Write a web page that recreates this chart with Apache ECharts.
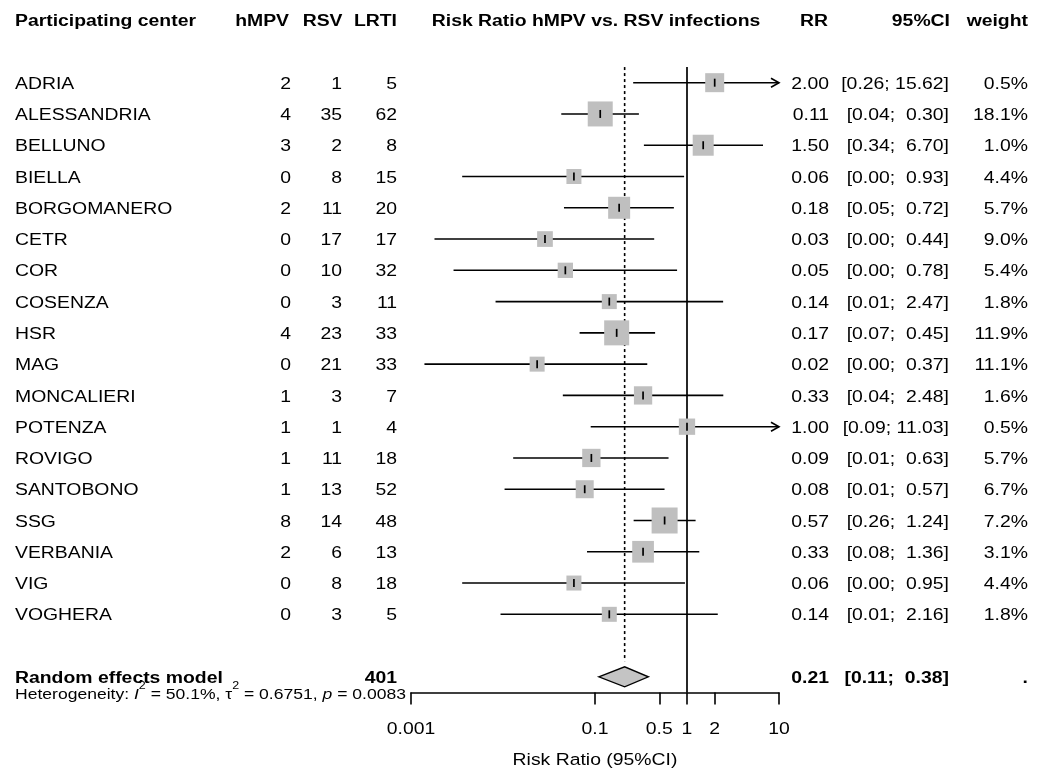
<!DOCTYPE html>
<html>
<head>
<meta charset="utf-8">
<script src="https://cdn.jsdelivr.net/npm/echarts@6/dist/echarts.min.js"></script>
<style>html,body{margin:0;padding:0;background:#fff}#c{width:1045px;height:771px}</style>
</head>
<body>
<div id="c"></div>
<script>
// ---------------- data ----------------
const centers = ['ADRIA','ALESSANDRIA','BELLUNO','BIELLA','BORGOMANERO','CETR','COR','COSENZA','HSR','MAG','MONCALIERI','POTENZA','ROVIGO','SANTOBONO','SSG','VERBANIA','VIG','VOGHERA'];
const hMPV = [2,4,3,0,2,0,0,0,4,0,1,1,1,1,8,2,0,0];
const RSV  = [1,35,2,8,11,17,10,3,23,21,3,1,11,13,14,6,8,3];
const LRTI = [5,62,8,15,20,17,32,11,33,33,7,4,18,52,48,13,18,5];
const rr      = [2.00,0.114,1.50,0.059,0.183,0.0286,0.0476,0.143,0.172,0.0235,0.333,1.00,0.0913,0.0773,0.571,0.333,0.059,0.143];
const ciLower = [0.26,0.043,0.34,0.0036,0.046,0.0018,0.0029,0.0083,0.068,0.0014,0.0447,0.0898,0.0129,0.0104,0.263,0.0819,0.0036,0.0094];
const ciUpper = [15.62,0.30,6.70,0.93,0.72,0.44,0.78,2.47,0.45,0.37,2.48,11.03,0.63,0.57,1.24,1.36,0.95,2.16];
const weightPct = [0.5,18.1,1.0,4.4,5.7,9.0,5.4,1.8,11.9,11.1,1.6,0.5,5.7,6.7,7.2,3.1,4.4,1.8];
const pooledRR = 0.21, pooledLower = 0.11, pooledUpper = 0.38;
const totalLRTI = 401;
const hetI2 = 50.1, hetTau2 = 0.6751, hetP = 0.0083;
const xTicks = [0.001, 0.1, 0.5, 1, 2, 10];
const headers = ['Participating center','hMPV','RSV','LRTI','Risk Ratio hMPV vs. RSV infections','RR','95%CI','weight'];
const pooledLabel = 'Random effects model';
const axisTitle = 'Risk Ratio (95%CI)';

// ---------------- style / layout ----------------
const boxPx = [19,25,21,15,22,15.7,15.3,15,25,15,18.3,16.3,18.3,18,26,21.7,15,15];
const FONT = '"Liberation Sans", Arial, Helvetica, sans-serif';
const FS = 16.8, FS_SMALL = 15.2, FS_SUP = 10.8;
const SX = 1.155;            // horizontal stretch of the glyphs
const TXT_DY = 1.5;
const colX = { name: 15, hmpv: 291, rsv: 342, lrti: 397, plot: 596, rr: 829, ci: 949, w: 1028 };
const headX = { name: 15, hmpv: 289, rsv: 342.5, lrti: 397, plot: 596, rr: 828, ci: 950, w: 1028 };
const X_MIN = xTicks[0], X_MAX = xTicks[xTicks.length - 1];
const Y_MIN = -2.5, Y_MAX = 19.5;
const HEADER_ROW = -2, POOLED_ROW = centers.length + 1, HET_ROW = 19.5;

function fmtCI(lo, up) {
  return '[' + lo.toFixed(2) + '; ' + up.toFixed(2).padStart(5, ' ') + ']';
}
function T(text, x, y, align, bold, size) {
  return { type: 'text', silent: true, x: x, y: y, scaleX: SX, scaleY: 1, style: {
    text: text, x: 0, y: 0, fill: '#000', fontSize: size || FS, fontFamily: FONT,
    fontWeight: bold ? 'bold' : 'normal', align: align, verticalAlign: 'middle' } };
}

const chart = echarts.init(document.getElementById('c'));

const tableRows = [[1, HEADER_ROW]].concat(centers.map((c, i) => [1, i])).concat([[1, POOLED_ROW], [1, HET_ROW]]);

const option = {
  animation: false,
  backgroundColor: '#fff',
  grid: { left: 411, right: 266, top: 4.5, bottom: 78.5, containLabel: false },
  xAxis: {
    type: 'log', logBase: 10, min: X_MIN, max: X_MAX, position: 'bottom',
    axisLine: { show: true, onZero: false, lineStyle: { color: '#000', width: 1.6 } },
    axisTick: { show: true, length: 12, customValues: xTicks, lineStyle: { color: '#000', width: 1.6 } },
    axisLabel: { show: false },
    splitLine: { show: false }
  },
  yAxis: { type: 'value', inverse: true, min: Y_MIN, max: Y_MAX, show: false },
  series: [
    { // reference lines
      type: 'custom', coordinateSystem: 'cartesian2d', silent: true, z: 1,
      data: [[1, -0.5, Y_MAX, 0], [pooledRR, -0.5, 18.5, 1]],
      encode: { x: 0, y: [1, 2] },
      renderItem: (params, api) => {
        const p1 = api.coord([api.value(0), api.value(1)]);
        const p2 = api.coord([api.value(0), api.value(2)]);
        const dashed = api.value(3) === 1;
        return { type: 'line', shape: { x1: p1[0], y1: p1[1], x2: p2[0], y2: p2[1] },
          style: { stroke: '#000', lineWidth: dashed ? 1.6 : 1.7, lineDash: dashed ? [3, 3] : null } };
      }
    },
    { // studies
      type: 'custom', coordinateSystem: 'cartesian2d', silent: true, z: 2,
      data: centers.map((c, i) => [rr[i], i, ciLower[i], ciUpper[i]]),
      encode: { x: [0, 2, 3], y: 1 },
      renderItem: (params, api) => {
        const i = params.dataIndex;
        const v = api.value(0), row = api.value(1), lo = api.value(2), up = api.value(3);
        const pc = api.coord([v, row]);
        const xc = pc[0], y = pc[1];
        const xl = api.coord([Math.max(lo, X_MIN), row])[0];
        const xu = api.coord([Math.min(up, X_MAX), row])[0];
        const s = boxPx[i];
        const ch = [
          { type: 'line', shape: { x1: xl, y1: y, x2: xu, y2: y }, style: { stroke: '#000', lineWidth: 1.6 } },
          { type: 'rect', shape: { x: xc - s / 2, y: y - s / 2, width: s, height: s }, style: { fill: '#bfbfbf' } },
          { type: 'line', shape: { x1: xc, y1: y - 4, x2: xc, y2: y + 4 }, style: { stroke: '#000', lineWidth: 1.7 } }
        ];
        if (up > X_MAX) ch.push({ type: 'polyline', shape: { points: [[xu - 8, y - 4.5], [xu, y], [xu - 8, y + 4.5]] },
          style: { stroke: '#000', fill: null, lineWidth: 1.6 } });
        if (lo < X_MIN) ch.push({ type: 'polyline', shape: { points: [[xl + 8, y - 4.5], [xl, y], [xl + 8, y + 4.5]] },
          style: { stroke: '#000', fill: null, lineWidth: 1.6 } });
        return { type: 'group', children: ch };
      }
    },
    { // pooled diamond
      type: 'custom', coordinateSystem: 'cartesian2d', silent: true, z: 3,
      data: [[pooledRR, POOLED_ROW, pooledLower, pooledUpper]],
      encode: { x: [0, 2, 3], y: 1 },
      renderItem: (params, api) => {
        const row = api.value(1);
        const c = api.coord([api.value(0), row]);
        const l = api.coord([api.value(2), row]);
        const u = api.coord([api.value(3), row]);
        const h = 10;
        return { type: 'polygon', shape: { points: [[l[0], c[1]], [c[0], c[1] - h], [u[0], c[1]], [c[0], c[1] + h]] },
          style: { fill: '#c4c4c4', stroke: '#000', lineWidth: 1.4 } };
      }
    },
    { // x-axis tick labels and title, placed through the axis scale
      type: 'custom', coordinateSystem: 'cartesian2d', silent: true, z: 4,
      data: xTicks.map(v => [v, Y_MAX, 0]).concat([[Math.sqrt(X_MIN * X_MAX), Y_MAX, 1]]),
      encode: { x: 0, y: 1 },
      renderItem: (params, api) => {
        const p = api.coord([api.value(0), api.value(1)]);
        if (api.value(2) === 1) return T(axisTitle, p[0], p[1] + 68, 'center', false);
        const v = api.value(0);
        return T(String(+(+v).toPrecision(6)), p[0], p[1] + 36.5, 'center', false);
      }
    },
    { // table text
      type: 'custom', coordinateSystem: 'cartesian2d', silent: true, z: 4,
      data: tableRows,
      encode: { x: 0, y: 1 },
      renderItem: (params, api) => {
        const row = api.value(1);
        const y = api.coord([1, row])[1] + TXT_DY;
        const ch = [];
        if (row === HEADER_ROW) {
          ch.push(T(headers[0], headX.name, y, 'left', true));
          ch.push(T(headers[1], headX.hmpv, y, 'right', true));
          ch.push(T(headers[2], headX.rsv, y, 'right', true));
          ch.push(T(headers[3], headX.lrti, y, 'right', true));
          ch.push(T(headers[4], headX.plot, y, 'center', true));
          ch.push(T(headers[5], headX.rr, y, 'right', true));
          ch.push(T(headers[6], headX.ci, y, 'right', true));
          ch.push(T(headers[7], headX.w, y, 'right', true));
        } else if (row === POOLED_ROW) {
          ch.push(T(pooledLabel, colX.name, y, 'left', true));
          ch.push(T(String(totalLRTI), colX.lrti, y, 'right', true));
          ch.push(T(pooledRR.toFixed(2), colX.rr, y, 'right', true));
          ch.push(T(fmtCI(pooledLower, pooledUpper), colX.ci, y, 'right', true));
          ch.push(T('.', colX.w, y, 'right', true));
        } else if (row === HET_ROW) {
          const yy = api.coord([1, row])[1] + 2;
          ch.push({ type: 'text', silent: true, x: colX.name, y: yy, scaleX: SX, scaleY: 1, style: {
            text: 'Heterogeneity: {it|I}{sup|2} = ' + hetI2.toFixed(1) + '%, \u03c4{sup|2} = ' + hetTau2.toFixed(4) + ', {it|p} = ' + hetP.toFixed(4),
            x: 0, y: 0, fill: '#000', fontSize: FS_SMALL, fontFamily: FONT,
            align: 'left', verticalAlign: 'middle',
            rich: {
              it: { fontStyle: 'italic', fontSize: FS_SMALL, fontFamily: FONT, fill: '#000' },
              sup: { fontSize: FS_SUP, fontFamily: FONT, fill: '#000', padding: [0, 0, 16, 0] }
            } } });
        } else {
          const i = row;
          ch.push(T(centers[i], colX.name, y, 'left', false));
          ch.push(T(String(hMPV[i]), colX.hmpv, y, 'right', false));
          ch.push(T(String(RSV[i]), colX.rsv, y, 'right', false));
          ch.push(T(String(LRTI[i]), colX.lrti, y, 'right', false));
          ch.push(T(rr[i].toFixed(2), colX.rr, y, 'right', false));
          ch.push(T(fmtCI(ciLower[i], ciUpper[i]), colX.ci, y, 'right', false));
          ch.push(T(weightPct[i].toFixed(1) + '%', colX.w, y, 'right', false));
        }
        return { type: 'group', children: ch };
      }
    }
  ]
};
chart.setOption(option);
</script>
</body>
</html>
